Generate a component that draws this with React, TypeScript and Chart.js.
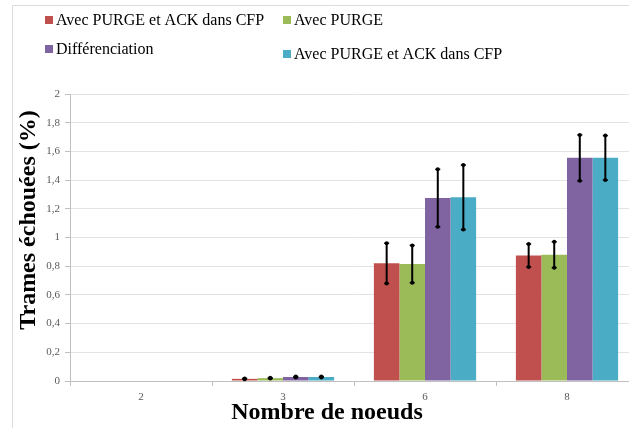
import React, { useEffect, useRef } from "react";
import { Chart, registerables } from "chart.js";

Chart.register(...registerables);

const categories = ["2", "3", "6", "8"];
const seriesNames = [
  "Avec PURGE et ACK dans CFP",
  "Avec PURGE",
  "Différenciation",
  "Avec PURGE et ACK dans CFP",
];
const redValues = [0, 0.015, 0.82, 0.875];
const greenValues = [0, 0.02, 0.815, 0.88];
const purpleValues = [0, 0.028, 1.275, 1.555];
const tealValues = [0, 0.028, 1.28, 1.555];
const redErr = [0, 0.003, 0.14, 0.08];
const greenErr = [0, 0.003, 0.13, 0.09];
const purpleErr = [0, 0.003, 0.2, 0.16];
const tealErr = [0, 0.003, 0.225, 0.155];
const yTicks = [0, 0.2, 0.4, 0.6, 0.8, 1, 1.2, 1.4, 1.6, 1.8, 2];
const xTitle = "Nombre de noeuds";
const yTitle = "Trames échouées (%)";

const colors = ["#C0504D", "#9BBB59", "#8064A2", "#4BACC6"];
const SERIF = '"Liberation Serif", "Times New Roman", serif';

export default function App() {
  const ref = useRef<HTMLCanvasElement | null>(null);

  useEffect(() => {
    const canvas = ref.current;
    if (!canvas) return;
    const values = [redValues, greenValues, purpleValues, tealValues];
    const errs = [redErr, greenErr, purpleErr, tealErr];

    const decorPlugin = {
      id: "decor",
      beforeDraw(chart: any) {
        const ctx = chart.ctx;
        ctx.save();
        ctx.fillStyle = "#ffffff";
        ctx.fillRect(0, 0, chart.width, chart.height);
        ctx.strokeStyle = "#dcdcdc";
        ctx.lineWidth = 1;
        ctx.beginPath();
        ctx.moveTo(12.5, chart.height);
        ctx.lineTo(12.5, 5.5);
        ctx.lineTo(chart.width, 5.5);
        ctx.stroke();
        ctx.restore();
      },
      afterDatasetsDraw(chart: any) {
        const ctx = chart.ctx;
        const yScale = chart.scales.y;
        ctx.save();
        ctx.strokeStyle = "#000";
        ctx.fillStyle = "#000";
        chart.data.datasets.forEach((ds: any, di: number) => {
          const meta = chart.getDatasetMeta(di);
          meta.data.forEach((bar: any, i: number) => {
            const v = ds.data[i];
            const e = errs[di][i];
            if (!v) return;
            const x = bar.x;
            const yTop = yScale.getPixelForValue(v + e);
            const yBot = yScale.getPixelForValue(v - e);
            ctx.lineWidth = 2;
            ctx.beginPath();
            ctx.moveTo(x, yTop);
            ctx.lineTo(x, yBot);
            ctx.stroke();
            ctx.lineWidth = 1.5;
            [yTop, yBot].forEach((yy) => {
              ctx.beginPath();
              ctx.moveTo(x - 2.5, yy);
              ctx.lineTo(x + 2.5, yy);
              ctx.stroke();
              ctx.beginPath();
              ctx.arc(x, yy, 2, 0, Math.PI * 2);
              ctx.fill();
            });
          });
        });
        ctx.restore();
      },
      afterDraw(chart: any) {
        const ctx = chart.ctx;
        ctx.save();
        // legend
        const pos = [
          [45, 20],
          [283, 20],
          [45, 49],
          [283, 54],
        ];
        ctx.font = `16px ${SERIF}`;
        ctx.textBaseline = "middle";
        ctx.textAlign = "left";
        chart.data.datasets.forEach((ds: any, i: number) => {
          const [lx, ly] = pos[i];
          ctx.fillStyle = colors[i];
          ctx.fillRect(lx, ly - 4, 8, 8);
          ctx.fillStyle = "#000";
          ctx.fillText(ds.label, lx + 11, ly + 1);
        });
        // axis titles
        ctx.font = `bold 24px ${SERIF}`;
        ctx.textAlign = "center";
        ctx.textBaseline = "middle";
        ctx.fillStyle = "#000";
        ctx.fillText(xTitle, 327, 413);
        ctx.translate(29, 220);
        ctx.rotate(-Math.PI / 2);
        ctx.fillText(yTitle, 0, 0);
        ctx.restore();
      },
    };

    const chart = new Chart(canvas, {
      type: "bar",
      data: {
        labels: categories,
        datasets: values.map((d, i) => ({
          label: seriesNames[i],
          data: d,
          backgroundColor: colors[i],
          borderWidth: 0,
          categoryPercentage: 0.72,
          barPercentage: 1,
        })),
      },
      options: {
        responsive: false,
        animation: false,
        devicePixelRatio: 1,
        layout: { padding: { top: 94, left: 0, right: 7, bottom: 0 } },
        plugins: {
          legend: { display: false },
          tooltip: { enabled: false },
        },
        scales: {
          x: {
            offset: true,
            grid: {
              display: true,
              offset: true,
              drawOnChartArea: false,
              drawTicks: true,
              tickLength: 5,
              color: "#bfbfbf",
            },
            border: { display: true, color: "#bfbfbf" },
            ticks: {
              color: "#595959",
              font: { family: SERIF, size: 11 },
              padding: 5,
            },
            afterFit(scale: any) {
              scale.height = 47;
            },
          },
          y: {
            min: 0,
            max: 2,
            afterBuildTicks(scale: any) {
              scale.ticks = yTicks.map((v) => ({ value: v }));
            },
            grid: {
              color: "#e3e3e3",
              drawTicks: true,
              tickLength: 5,
              tickColor: "#bfbfbf",
            },
            border: { display: true, color: "#bfbfbf" },
            ticks: {
              color: "#595959",
              font: { family: SERIF, size: 11 },
              padding: 5,
              callback: (v: any) => String(Number(v).toFixed(1)).replace(/\.0$/, "").replace(".", ","),
            },
            afterFit(scale: any) {
              scale.width = 70;
            },
          },
        },
      },
      plugins: [decorPlugin],
    });
    return () => chart.destroy();
  }, []);

  return (
    <div
      style={{
        position: "fixed",
        left: 0,
        top: 0,
        width: 629,
        height: 428,
        overflow: "hidden",
        background: "#fff",
      }}
    >
      <canvas ref={ref} width={645} height={428} style={{ display: "block" }} />
    </div>
  );
}
